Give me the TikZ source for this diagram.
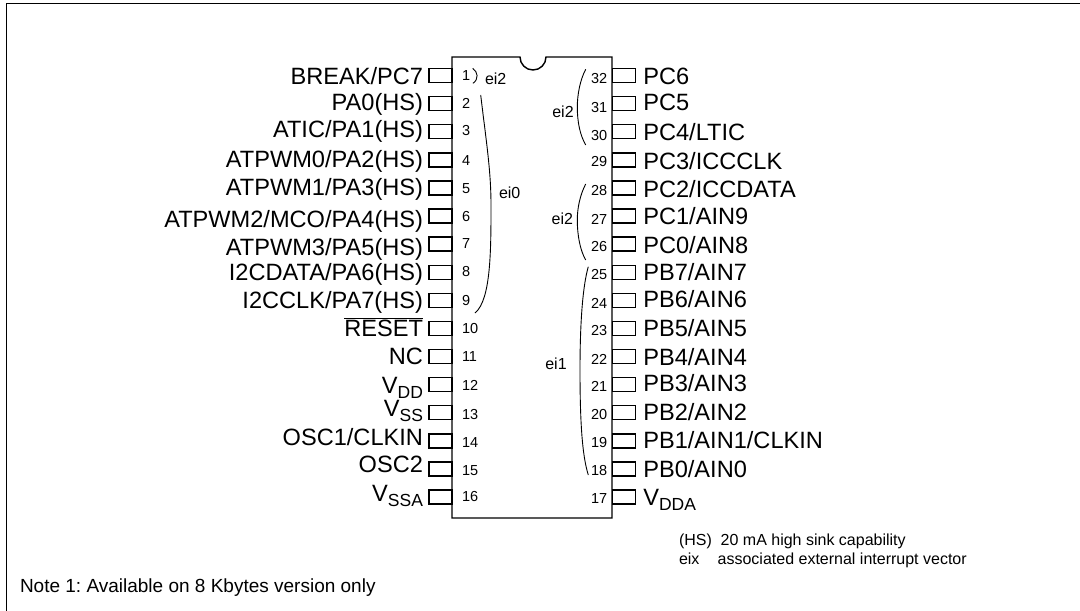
\documentclass[tikz,border=0pt]{standalone}
\usepackage{fontspec}
\setmainfont{Liberation Sans}
\newcommand{\pinsub}[1]{\raisebox{-5pt}{\fontsize{17.5}{18}\selectfont #1}}
\frenchspacing
\begin{document}
\begin{tikzpicture}[x=1pt,y=-1pt,line width=1.4pt,
	  every node/.append style={inner sep=0pt,outer sep=0pt}]
	  \tikzstyle{pinbox} = [draw,line width=1.4pt,minimum width=23pt,minimum height=14pt]
	  \tikzstyle{pinname} = [font=\fontsize{23.6}{24}\selectfont,color=black]
	  \tikzstyle{pinnum} = [font=\fontsize{14.5}{16}\selectfont,color=black]
	  \tikzstyle{small} = [font=\fontsize{16}{18}\selectfont,color=black]
	  \tikzstyle{brace} = [line width=0.9pt]
	  \useasboundingbox (0,0) rectangle (1080,611);
	  \draw[line width=1pt] (6.7,611) -- (6.7,3.3) -- (1080,3.3);
	  % package body with notch
	  \draw (452,57) -- (520,57) arc (180:0:13) -- (612,57) -- (612,518) -- (452,518) -- cycle;
	  % left side
	  \foreach \n/\ny/\by/\name [evaluate=\n as \py using 75.5+28.1*(\n-1)] in {1/76/84.3/BREAK\slash PC7,2/103/110.7/PA0(HS),3/131/137.3/ATIC\slash PA1(HS),4/160.7/167.7/ATPWM0\slash PA2(HS),5/188.3/195/ATPWM1\slash PA3(HS),6/216.7/227.3/ATPWM2\slash MCO\slash PA4(HS),7/244/255.7/ATPWM3\slash PA5(HS),8/272/280/I2CDATA\slash PA6(HS),9/301/308.3/I2CCLK\slash PA7(HS),10/329/336/$\overline{\mbox{RESET}}$,11/357/364/NC,12/385.7/393/V\pinsub{DD},13/415/416/V\pinsub{SS},14/442.7/445/OSC1\slash CLKIN,15/470.7/472.7/OSC2,16/497/501.7/V\pinsub{SSA}}
	  {
	    \node (pin_\n) [pinbox] at (440.5,\py) {};
	    \node (num_\n) [pinnum,anchor=west] at (462,\ny) {\n};
	    \node (name_\n) [pinname,anchor=base east] at (423,\by) {\name};
	  }
	  % right side
	  \foreach \n/\ny/\by/\name [evaluate=\n as \py using 75.5+28.1*(32-\n)] in {32/79/84/PC6,31/107.7/110.7/PC5,30/136/140/PC4\slash LTIC,29/162/169.3/PC3\slash ICCCLK,28/190.7/197.3/PC2\slash ICCDATA,27/219/224.3/PC1\slash AIN9,26/247/253.3/PC0\slash AIN8,25/275/280.7/PB7\slash AIN7,24/303/307.7/PB6\slash AIN6,23/330.7/336.7/PB5\slash AIN5,22/359/365/PB4\slash AIN4,21/386.7/391.7/PB3\slash AIN3,20/415/420/PB2\slash AIN2,19/442.7/448.3/PB1\slash AIN1\slash CLKIN,18/470.7/477.7/PB0\slash AIN0,17/499/505/V\pinsub{DDA}}
	  {
	    \node (pin_\n) [pinbox] at (624,\py) {};
	    \node (num_\n) [pinnum,anchor=east] at (607.3,\ny) {\n};
	    \node (name_\n) [pinname,anchor=base west] at (643.3,\by) {\name};
	  }
	  % interrupt groups
	  \draw[brace] (472.7,68.3) .. controls (478,72) and (479,79) .. (473,83.3);
	  \node (lab_1) [small,anchor=west] at (485,79) {ei2};
	  \draw[brace] (480.7,95) .. controls (486,140) and (491,170) .. (491,205) .. controls (491,250) and (491,300) .. (475,313);
	  \node (lab_2) [small,anchor=west] at (499,192.7) {ei0};
	  \draw[brace] (585.7,69.3) .. controls (580,80) and (577.3,95) .. (577.3,107) .. controls (577.3,122) and (580,135) .. (585.7,145);
	  \node (lab_3) [small,anchor=east] at (573.7,111.7) {ei2};
	  \draw[brace] (585.7,184) .. controls (580,195) and (577.3,208) .. (577.3,220) .. controls (577.3,235) and (580,250) .. (585.7,260);
	  \node (lab_4) [small,anchor=east] at (573,219) {ei2};
	  \draw[brace] (588.3,266.7) .. controls (583,285) and (580,320) .. (580,370) .. controls (580,420) and (582,455) .. (588.3,475);
	  \node (lab_5) [small,anchor=east] at (566.7,363.3) {ei1};
	  % notes
	  \node (note_hs) [small,anchor=base west] at (679,545) {(HS)};
	  \node (note_hs_text) [small,anchor=base west] at (720.7,545) {20 mA high sink capability};
	  \node (note_ei) [small,anchor=base west] at (679,564) {eix};
	  \node (note_ei_text) [small,anchor=base west] at (717.7,564) {associated external interrupt vector};
	  \node (note_1) [font=\fontsize{19}{22}\selectfont,anchor=base west] at (20,592.7) {Note 1: Available on 8 Kbytes version only};
	\end{tikzpicture}
\end{document}
